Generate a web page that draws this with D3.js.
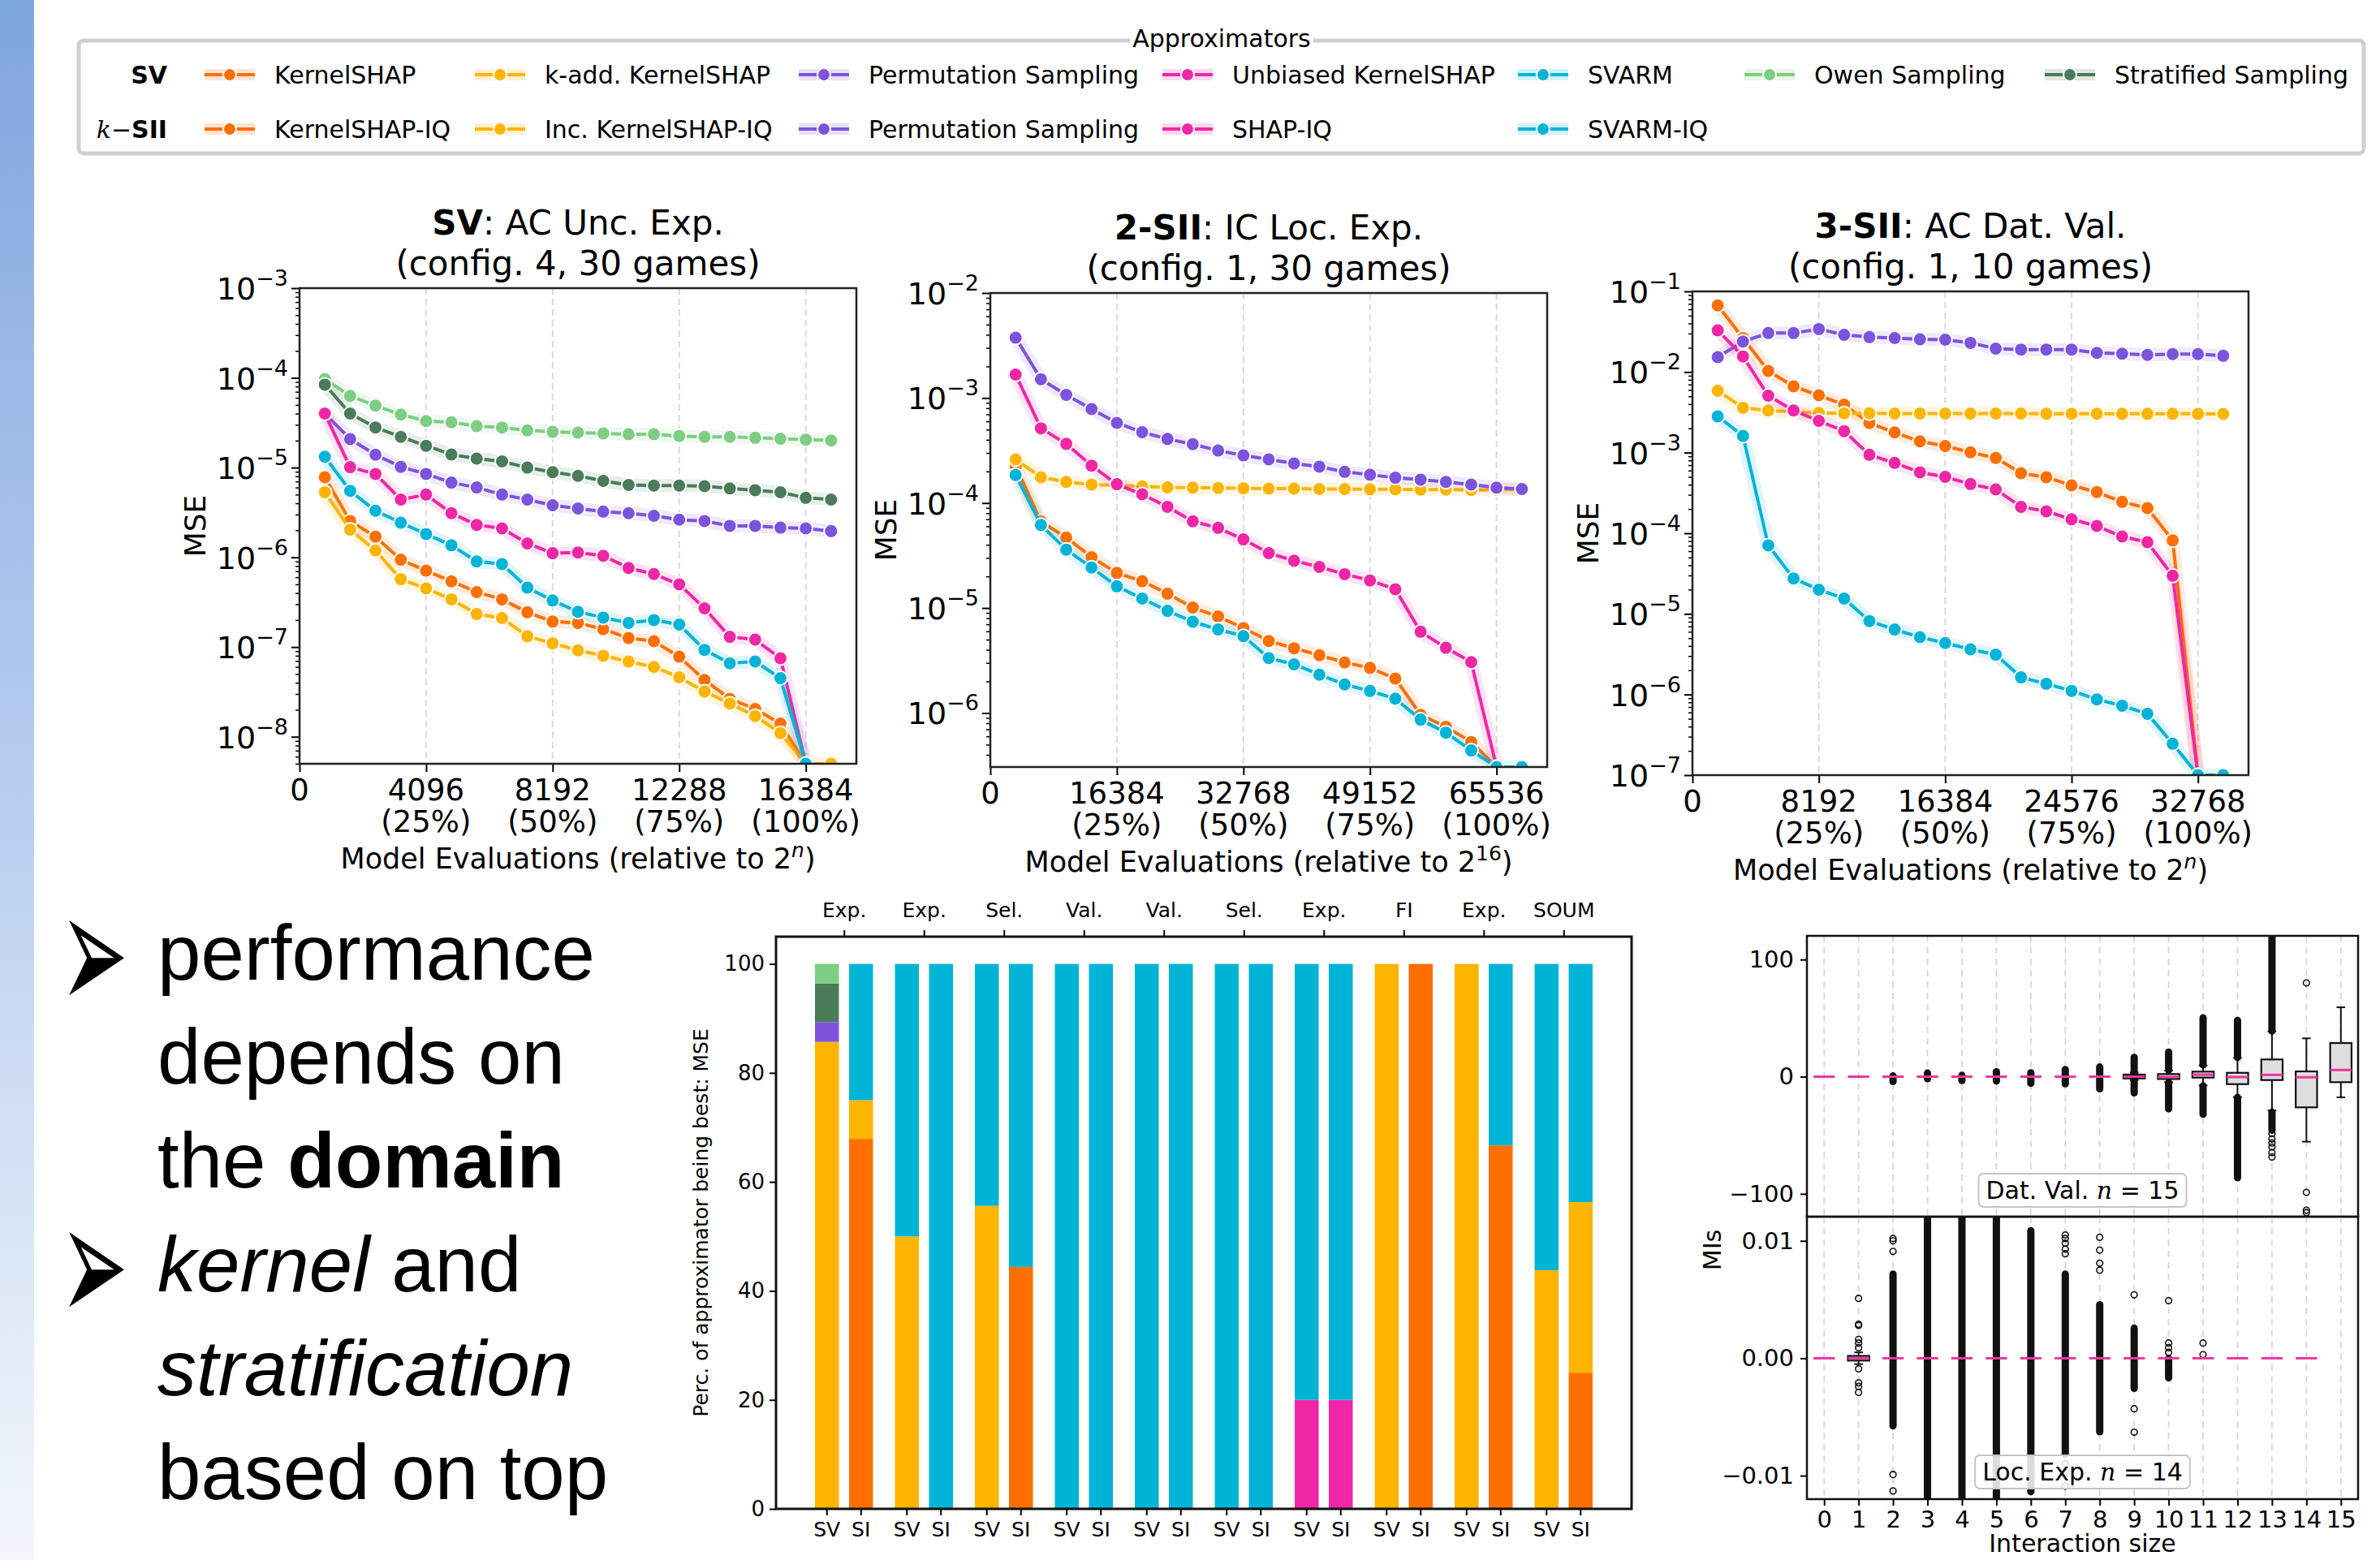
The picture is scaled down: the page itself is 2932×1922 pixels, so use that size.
<!DOCTYPE html>
<html>
<head>
<meta charset="utf-8">
<title>Approximators</title>
<script src="https://cdn.jsdelivr.net/npm/d3@7"></script>
<style>
  body { margin: 0; background: #fff; }
  svg { display: block; font-family: "DejaVu Sans", sans-serif; }
</style>
</head>
<body>
<div id="chart"></div>
<script>

// ---------- data ----------

const colors = {
  KernelSHAP: "#ff6f00", kAdd: "#ffb400", Permutation: "#7d53de", Unbiased: "#ef27a6",
  SVARM: "#00b4d8", Owen: "#7dce82", Stratified: "#4a7c59"
};
const seriesOrder = ["KernelSHAP", "kAdd", "Permutation", "Unbiased", "SVARM", "Owen", "Stratified"];

const legendSV  = ["KernelSHAP", "k-add. KernelSHAP", "Permutation Sampling", "Unbiased KernelSHAP", "SVARM", "Owen Sampling", "Stratified Sampling"];
const legendSII = ["KernelSHAP-IQ", "Inc. KernelSHAP-IQ", "Permutation Sampling", "SHAP-IQ", "SVARM-IQ"];

// panel 1: SV, AC Unc. Exp. (0 = exact, drawn at the bottom edge)
const p1Budget = [819, 1638, 2458, 3277, 4096, 4915, 5734, 6554, 7373, 8192, 9011, 9830, 10650, 11469, 12288, 13107, 13926, 14746, 15565, 16384, 17203];
const p1XTicks = [0, 4096, 8192, 12288, 16384];
const p1XPct   = ["", "(25%)", "(50%)", "(75%)", "(100%)"];
const p1KernelSHAP  = [7.8e-6, 2.54e-6, 1.7e-6, 9.4e-7, 7.1e-7, 5.4e-7, 4.1e-7, 3.4e-7, 2.44e-7, 1.92e-7, 1.86e-7, 1.58e-7, 1.26e-7, 1.16e-7, 7.8e-8, 4.3e-8, 2.65e-8, 2.04e-8, 1.4e-8, 0];
const p1kAdd        = [5.3e-6, 2.04e-6, 1.19e-6, 5.7e-7, 4.5e-7, 3.4e-7, 2.33e-7, 2.1e-7, 1.32e-7, 1.1e-7, 9.2e-8, 8.0e-8, 6.9e-8, 6.0e-8, 4.6e-8, 3.2e-8, 2.35e-8, 1.7e-8, 1.1e-8, 0, 0];
const p1Permutation = [4.0e-5, 2.08e-5, 1.39e-5, 1.02e-5, 8.5e-6, 6.8e-6, 6.0e-6, 5.0e-6, 4.4e-6, 3.8e-6, 3.5e-6, 3.23e-6, 3.1e-6, 2.9e-6, 2.63e-6, 2.54e-6, 2.24e-6, 2.24e-6, 2.14e-6, 2.1e-6, 1.96e-6];
const p1Unbiased    = [4.0e-5, 1.01e-5, 8.5e-6, 4.4e-6, 5.0e-6, 3.1e-6, 2.3e-6, 2.1e-6, 1.43e-6, 1.11e-6, 1.13e-6, 1.04e-6, 7.6e-7, 6.5e-7, 5.0e-7, 2.7e-7, 1.3e-7, 1.21e-7, 7.5e-8, 0];
const p1SVARM       = [1.32e-5, 5.5e-6, 3.3e-6, 2.43e-6, 1.82e-6, 1.36e-6, 9.0e-7, 8.4e-7, 4.6e-7, 3.3e-7, 2.47e-7, 2.13e-7, 1.86e-7, 2.0e-7, 1.78e-7, 9.3e-8, 6.6e-8, 6.9e-8, 4.5e-8, 0];
const p1Owen        = [9.7e-5, 6.3e-5, 4.9e-5, 3.9e-5, 3.3e-5, 3.2e-5, 2.9e-5, 2.8e-5, 2.6e-5, 2.5e-5, 2.45e-5, 2.4e-5, 2.35e-5, 2.35e-5, 2.25e-5, 2.2e-5, 2.2e-5, 2.15e-5, 2.1e-5, 2.05e-5, 2.0e-5];
const p1Stratified  = [8.4e-5, 4.0e-5, 2.8e-5, 2.2e-5, 1.75e-5, 1.4e-5, 1.26e-5, 1.17e-5, 1.0e-5, 8.9e-6, 8.1e-6, 7.1e-6, 6.4e-6, 6.3e-6, 6.3e-6, 6.2e-6, 5.85e-6, 5.6e-6, 5.3e-6, 4.6e-6, 4.4e-6];

// panel 2: 2-SII, IC Loc. Exp.
const p2Budget = [3277, 6554, 9830, 13107, 16384, 19661, 22938, 26214, 29491, 32768, 36045, 39322, 42598, 45875, 49152, 52429, 55706, 58982, 62259, 65536, 68813];
const p2XTicks = [0, 16384, 32768, 49152, 65536];
const p2XPct   = ["", "(25%)", "(50%)", "(75%)", "(100%)"];
const p2KernelSHAP  = [2.24e-4, 6.67e-5, 4.69e-5, 3.05e-5, 2.16e-5, 1.8e-5, 1.37e-5, 1.01e-5, 8.3e-6, 6.45e-6, 4.85e-6, 4.14e-6, 3.55e-6, 3.03e-6, 2.69e-6, 2.13e-6, 9.6e-7, 7.4e-7, 5.3e-7, 0];
const p2kAdd        = [2.6e-4, 1.76e-4, 1.59e-4, 1.5e-4, 1.47e-4, 1.44e-4, 1.41e-4, 1.4e-4, 1.39e-4, 1.38e-4, 1.37e-4, 1.37e-4, 1.36e-4, 1.36e-4, 1.35e-4, 1.35e-4, 1.34e-4, 1.34e-4, 1.33e-4, 1.34e-4, 1.34e-4];
const p2Permutation = [3.76e-3, 1.51e-3, 1.07e-3, 7.85e-4, 5.8e-4, 4.72e-4, 4.07e-4, 3.63e-4, 3.16e-4, 2.84e-4, 2.6e-4, 2.38e-4, 2.22e-4, 1.98e-4, 1.86e-4, 1.74e-4, 1.67e-4, 1.59e-4, 1.5e-4, 1.4e-4, 1.36e-4];
const p2Unbiased    = [1.67e-3, 5.15e-4, 3.66e-4, 2.27e-4, 1.51e-4, 1.21e-4, 9.2e-5, 6.7e-5, 5.8e-5, 4.5e-5, 3.33e-5, 2.82e-5, 2.46e-5, 2.1e-5, 1.83e-5, 1.51e-5, 5.94e-6, 4.18e-6, 3.05e-6, 0];
const p2SVARM       = [1.85e-4, 6.17e-5, 3.6e-5, 2.43e-5, 1.61e-5, 1.23e-5, 9.4e-6, 7.4e-6, 6.25e-6, 5.4e-6, 3.34e-6, 2.91e-6, 2.32e-6, 1.87e-6, 1.62e-6, 1.37e-6, 8.65e-7, 6.5e-7, 4.4e-7, 0, 0];

// panel 3: 3-SII, AC Dat. Val.
const p3Budget = [1638, 3277, 4915, 6554, 8192, 9830, 11469, 13107, 14746, 16384, 18022, 19661, 21299, 22938, 24576, 26214, 27853, 29491, 31130, 32768, 34406];
const p3XTicks = [0, 8192, 16384, 24576, 32768];
const p3XPct   = ["", "(25%)", "(50%)", "(75%)", "(100%)"];
const p3KernelSHAP  = [6.7e-2, 2.64e-2, 1.03e-2, 6.64e-3, 5.14e-3, 3.93e-3, 2.33e-3, 1.78e-3, 1.38e-3, 1.21e-3, 1.01e-3, 8.6e-4, 5.55e-4, 4.95e-4, 3.93e-4, 3.24e-4, 2.45e-4, 2.05e-4, 8.15e-5, 0];
const p3kAdd        = [5.85e-3, 3.6e-3, 3.33e-3, 3.2e-3, 3.1e-3, 3.08e-3, 3.07e-3, 3.06e-3, 3.06e-3, 3.05e-3, 3.05e-3, 3.05e-3, 3.05e-3, 3.04e-3, 3.04e-3, 3.04e-3, 3.03e-3, 3.03e-3, 3.03e-3, 3.03e-3, 3.02e-3];
const p3Permutation = [1.53e-2, 2.39e-2, 3.04e-2, 3.04e-2, 3.41e-2, 2.89e-2, 2.71e-2, 2.64e-2, 2.55e-2, 2.52e-2, 2.3e-2, 1.95e-2, 1.9e-2, 1.9e-2, 1.9e-2, 1.73e-2, 1.69e-2, 1.63e-2, 1.67e-2, 1.67e-2, 1.59e-2];
const p3Unbiased    = [3.29e-2, 1.56e-2, 5.08e-3, 3.33e-3, 2.48e-3, 1.85e-3, 9.4e-4, 7.45e-4, 5.7e-4, 5.0e-4, 4.08e-4, 3.5e-4, 2.13e-4, 1.87e-4, 1.49e-4, 1.23e-4, 9.1e-5, 7.75e-5, 2.97e-5, 0];
const p3SVARM       = [2.82e-3, 1.61e-3, 7.08e-5, 2.75e-5, 2.0e-5, 1.55e-5, 8.15e-6, 6.4e-6, 5.15e-6, 4.35e-6, 3.64e-6, 3.12e-6, 1.63e-6, 1.36e-6, 1.11e-6, 8.7e-7, 7.26e-7, 5.77e-7, 2.45e-7, 0, 0];

// bar chart: share of games (%) where each approximator is best, bars SV/SI per group
const barGroups = ["Exp.", "Exp.", "Sel.", "Val.", "Val.", "Sel.", "Exp.", "FI", "Exp.", "SOUM"];
const barKinds  = ["SV", "SI"];
const barKernelSHAP  = [0, 67.9, 0, 0, 0, 44.4, 0, 0, 0, 0, 0, 0, 0, 0, 0, 100, 0, 66.7, 0, 25];
const barkAdd        = [85.7, 7.1, 50, 0, 55.6, 0, 0, 0, 0, 0, 0, 0, 0, 0, 100, 0, 100, 0, 43.8, 31.3];
const barPermutation = [3.6, 0, 0, 0, 0, 0, 0, 0, 0, 0, 0, 0, 0, 0, 0, 0, 0, 0, 0, 0];
const barUnbiased    = [0, 0, 0, 0, 0, 0, 0, 0, 0, 0, 0, 0, 20, 20, 0, 0, 0, 0, 0, 0];
const barStratified  = [7.1, 0, 0, 0, 0, 0, 0, 0, 0, 0, 0, 0, 0, 0, 0, 0, 0, 0, 0, 0];
const barOwen        = [3.6, 0, 0, 0, 0, 0, 0, 0, 0, 0, 0, 0, 0, 0, 0, 0, 0, 0, 0, 0];
const barSVARM       = [0, 25, 50, 100, 44.4, 55.6, 100, 100, 100, 100, 100, 100, 80, 80, 0, 0, 0, 33.3, 56.2, 43.7];
const barTicks = [0, 20, 40, 60, 80, 100];

// box plots of MIs per interaction size: [q1, median, q3, whiskerLow, whiskerHigh]
const sizes = [0, 1, 2, 3, 4, 5, 6, 7, 8, 9, 10, 11, 12, 13, 14, 15];
const datValBoxes = [
  [0, 0, 0, 0, 0], [0, 0, 0, 0, 0], [0, 0, 0, 0, 0], [0, 0, 0, 0, 0], [0, 0, 0, 0, 0], [0, 0, 0, 0, 0],
  [0, 0, 0, 0, 0], [0, 0, 0, 0, 0], [0, 0, 0, 0, 0], [-1.5, 0, 1.8, -3, 3.5], [-2, -0.3, 2.2, -4.7, 5.2],
  [-0.8, 1.7, 4.3, -7.5, 9.6], [-6.4, -0.3, 3.3, -17.4, 16], [-2.9, 1.5, 14.7, -28.9, 38.6],
  [-26.2, -0.5, 4.5, -55.5, 32.7], [-4.7, 5.7, 28.7, -17.6, 59.2]
];
const datValRuns = [
  [], [], [[-4.5, 1.0]], [[-2.2, 3.4]], [[-3.7, 1.5]], [[-4, 4.5]], [[-6, 3.7]], [[-6.4, 6.4]], [[-10.8, 8.6]],
  [[-14.2, 16.8]], [[-27.8, -4.7], [5.2, 21.3]], [[-32.4, -7.5], [9.6, 50.6]], [[-86.6, -17.4], [16, 48.3]],
  [[-46, -30], [38.6, 125]], [], []
];
const datValOutliers = [
  [], [], [], [], [], [], [], [], [], [], [], [], [],
  [-48.6, -53.2, -56.6, -60.1, -64.7, -68.6], [80, -98.8, -114, -116], []
];
const locExpBoxes = [
  [0, 0, 0, 0, 0], [-0.0002, 0, 0.0002, -0.0005, 0.0005], [0, 0, 0, 0, 0], [0, 0, 0, 0, 0], [0, 0, 0, 0, 0],
  [0, 0, 0, 0, 0], [0, 0, 0, 0, 0], [0, 0, 0, 0, 0], [0, 0, 0, 0, 0], [0, 0, 0, 0, 0], [0, 0, 0, 0, 0],
  [0, 0, 0, 0, 0], [0, 0, 0, 0, 0], [0, 0, 0, 0, 0], [0, 0, 0, 0, 0]
];
const locExpRuns = [
  [], [], [[-0.0058, 0.0072]], [[-0.0125, 0.0125]], [[-0.0125, 0.0125]], [[-0.0125, 0.0125]],
  [[-0.0114, 0.0109]], [[-0.0082, 0.0072]], [[-0.0063, 0.0046]], [[-0.0026, 0.0026]], [[-0.0017, 0]], [], [], [], []
];
const locExpOutliers = [
  [], [0.0051, 0.0029, 0.0028, 0.0016, 0.0013, 0.0009, -0.0009, -0.0021, -0.0024, -0.0029],
  [0.0102, 0.0100, 0.0091, -0.0099, -0.0113], [], [], [], [],
  [0.0105, 0.0102, 0.0098, 0.0093, 0.0089, -0.0090, -0.0097, -0.0109],
  [0.0103, 0.0092, 0.0081, 0.0075], [0.0054, -0.0043, -0.0063], [0.0049, 0.0013, 0.0009, 0.0005],
  [0.0013, 0.0003], [], [], []
];

// ---------- drawing ----------

const W = 2932, H = 1922;
const svg = d3.select("#chart").append("svg")
  .attr("width", W).attr("height", H)
  .attr("viewBox", [0, 0, W, H]);
svg.append("rect").attr("width", W).attr("height", H).attr("fill", "#fff");
const defs = svg.append("defs");

// slide side band
const grad = defs.append("linearGradient").attr("id", "band")
  .attr("x1", 0).attr("x2", 0).attr("y1", 0).attr("y2", 1);
grad.append("stop").attr("offset", "0%").attr("stop-color", "#7ea6df");
grad.append("stop").attr("offset", "55%").attr("stop-color", "#bdd1f0");
grad.append("stop").attr("offset", "100%").attr("stop-color", "#f3f7fc");
svg.append("rect").attr("x", 0).attr("y", 0).attr("width", 42).attr("height", H).attr("fill", "url(#band)");

// legend
const lg = svg.append("g");
lg.append("rect").attr("x", 97).attr("y", 50).attr("width", 2815).attr("height", 139)
  .attr("rx", 6).attr("fill", "#fff").attr("stroke", "#cfcfcf").attr("stroke-width", 5);
const ltBack = lg.append("rect").attr("fill", "#fff");
const lt = lg.append("text").attr("x", 1505).attr("y", 58).attr("text-anchor", "middle")
  .attr("font-size", 30).text("Approximators");
const ltb = lt.node().getBBox();
ltBack.attr("x", ltb.x - 3).attr("y", ltb.y).attr("width", ltb.width + 6).attr("height", ltb.height);

const legendCols = [252, 585, 984, 1432, 1870, 2149, 2519];
function legendHandle(g, x0, yc, color) {
  g.append("rect").attr("x", x0).attr("y", yc - 7).attr("width", 62).attr("height", 14)
    .attr("fill", color).attr("opacity", 0.18);
  g.append("line").attr("x1", x0).attr("x2", x0 + 62).attr("y1", yc).attr("y2", yc)
    .attr("stroke", color).attr("stroke-width", 4);
  g.append("circle").attr("cx", x0 + 31).attr("cy", yc).attr("r", 8)
    .attr("fill", color).attr("stroke", "#fff").attr("stroke-width", 2);
}
[legendSV, legendSII].forEach((names, r) => {
  const yc = r === 0 ? 92 : 159;
  names.forEach((name, i) => {
    legendHandle(lg, legendCols[i], yc, colors[seriesOrder[i]]);
    lg.append("text").attr("x", legendCols[i] + 86).attr("y", yc + 11)
      .attr("font-size", 30).text(name);
  });
});
lg.append("text").attr("x", 206).attr("y", 103).attr("text-anchor", "end")
  .attr("font-size", 30).attr("font-weight", "bold").text("SV");
const sii = lg.append("text").attr("x", 206).attr("y", 170).attr("text-anchor", "end").attr("font-size", 30);
sii.append("tspan").attr("font-family", "DejaVu Serif").attr("font-style", "italic").text("k");
sii.append("tspan").text("\u2212");
sii.append("tspan").attr("font-weight", "bold").text("SII");

// line panels
const panels = [
  { id: "p1", left: 369, right: 1055, top: 355, bottom: 941, xMax: 18022, yDomain: [5e-9, 1e-3],
    decades: [-8, -7, -6, -5, -4, -3], budget: p1Budget, xTicks: p1XTicks, xPct: p1XPct,
    series: { KernelSHAP: p1KernelSHAP, kAdd: p1kAdd, Permutation: p1Permutation, Unbiased: p1Unbiased,
              SVARM: p1SVARM, Owen: p1Owen, Stratified: p1Stratified },
    bold: "SV", title: ": AC Unc. Exp.", sub: "(config. 4, 30 games)", sup: "n", supItalic: true },
  { id: "p2", left: 1220, right: 1906, top: 361, bottom: 945, xMax: 72090, yDomain: [3.06e-7, 1e-2],
    decades: [-6, -5, -4, -3, -2], budget: p2Budget, xTicks: p2XTicks, xPct: p2XPct,
    series: { KernelSHAP: p2KernelSHAP, kAdd: p2kAdd, Permutation: p2Permutation, Unbiased: p2Unbiased, SVARM: p2SVARM },
    bold: "2-SII", title: ": IC Loc. Exp.", sub: "(config. 1, 30 games)", sup: "16", supItalic: false },
  { id: "p3", left: 2085, right: 2770, top: 359, bottom: 955, xMax: 36045, yDomain: [1e-7, 1e-1],
    decades: [-7, -6, -5, -4, -3, -2, -1], budget: p3Budget, xTicks: p3XTicks, xPct: p3XPct,
    series: { KernelSHAP: p3KernelSHAP, kAdd: p3kAdd, Permutation: p3Permutation, Unbiased: p3Unbiased, SVARM: p3SVARM },
    bold: "3-SII", title: ": AC Dat. Val.", sub: "(config. 1, 10 games)", sup: "n", supItalic: true }
];

function drawLinePanel(p) {
  const x = d3.scaleLinear().domain([0, p.xMax]).range([p.left, p.right]);
  const y = d3.scaleLog().domain(p.yDomain).range([p.bottom, p.top]).clamp(true);
  const g = svg.append("g");

  g.selectAll(".grid").data(p.xTicks.filter(d => d > 0)).join("line")
    .attr("x1", d => x(d)).attr("x2", d => x(d)).attr("y1", p.top).attr("y2", p.bottom)
    .attr("stroke", "#dadada").attr("stroke-width", 2).attr("stroke-dasharray", "8,5");

  defs.append("clipPath").attr("id", "clip-" + p.id).append("rect")
    .attr("x", p.left).attr("y", p.top).attr("width", p.right - p.left).attr("height", p.bottom - p.top);
  const c = g.append("g").attr("clip-path", `url(#clip-${p.id})`);

  const yv = v => y(v > 0 ? v : p.yDomain[0]);
  const line = d3.line().x((v, i) => x(p.budget[i])).y(v => yv(v));
  seriesOrder.forEach(key => {
    const vals = p.series[key];
    if (!vals) return;
    const col = colors[key];
    c.append("path").attr("d", line(vals)).attr("fill", "none").attr("stroke", col)
      .attr("stroke-width", 16).attr("stroke-opacity", 0.13).attr("stroke-linejoin", "round");
    c.append("path").attr("d", line(vals)).attr("fill", "none").attr("stroke", col)
      .attr("stroke-width", 4).attr("stroke-linejoin", "round");
    c.selectAll(null).data(vals).join("circle")
      .attr("cx", (v, i) => x(p.budget[i])).attr("cy", v => yv(v)).attr("r", 8.5)
      .attr("fill", col).attr("stroke", "#fff").attr("stroke-width", 2);
  });

  // axes
  const major = p.decades.map(e => Math.pow(10, e));
  const minor = y.ticks().filter(t => !major.some(m => Math.abs(t / m - 1) < 1e-6));
  g.append("g").attr("transform", `translate(${p.left},0)`)
    .call(d3.axisLeft(y).tickValues(minor).tickSize(5).tickFormat(""))
    .call(a => a.select(".domain").remove())
    .call(a => a.selectAll("line").attr("stroke-width", 1.5));
  g.append("g").attr("transform", `translate(${p.left},0)`)
    .call(d3.axisLeft(y).tickValues(major).tickSize(10).tickFormat(""))
    .call(a => a.select(".domain").remove())
    .call(a => a.selectAll("line").attr("stroke-width", 2));
  p.decades.forEach(e => {
    const t = g.append("text").attr("x", p.left - 14).attr("y", y(Math.pow(10, e)) + 14)
      .attr("text-anchor", "end").attr("font-size", 38);
    t.append("tspan").text("10");
    t.append("tspan").attr("dy", -17).attr("font-size", 27).text("\u2212" + Math.abs(e));
  });

  g.append("g").attr("transform", `translate(0,${p.bottom})`)
    .call(d3.axisBottom(x).tickValues(p.xTicks).tickSize(10).tickFormat(""))
    .call(a => a.select(".domain").remove())
    .call(a => a.selectAll("line").attr("stroke-width", 2));
  p.xTicks.forEach((t, i) => {
    g.append("text").attr("x", x(t)).attr("y", p.bottom + 45).attr("text-anchor", "middle")
      .attr("font-size", 37).text(t);
    if (p.xPct[i]) g.append("text").attr("x", x(t)).attr("y", p.bottom + 84)
      .attr("text-anchor", "middle").attr("font-size", 37).text(p.xPct[i]);
  });

  g.append("rect").attr("x", p.left).attr("y", p.top).attr("width", p.right - p.left)
    .attr("height", p.bottom - p.top).attr("fill", "none").attr("stroke", "#222").attr("stroke-width", 2.5);

  const cx = (p.left + p.right) / 2;
  const t1 = g.append("text").attr("x", cx).attr("y", p.top - 66).attr("text-anchor", "middle").attr("font-size", 42);
  t1.append("tspan").attr("font-weight", "bold").text(p.bold);
  t1.append("tspan").text(p.title);
  g.append("text").attr("x", cx).attr("y", p.top - 16).attr("text-anchor", "middle").attr("font-size", 42).text(p.sub);

  const xl = g.append("text").attr("x", cx).attr("y", p.bottom + 129).attr("text-anchor", "middle").attr("font-size", 35);
  xl.append("tspan").text("Model Evaluations (relative to 2");
  xl.append("tspan").attr("dy", -14).attr("font-size", 25)
    .attr("font-style", p.supItalic ? "italic" : "normal").text(p.sup);
  xl.append("tspan").attr("dy", 14).text(")");

  g.append("text").attr("transform", `translate(${p.left - 116},${(p.top + p.bottom) / 2}) rotate(-90)`)
    .attr("text-anchor", "middle").attr("font-size", 36).text("MSE");
}
panels.forEach(drawLinePanel);

// bar chart
(function () {
  const left = 956, right = 2010, top = 1154, bottom = 1859;
  const shares = { KernelSHAP: barKernelSHAP, kAdd: barkAdd, Permutation: barPermutation, Unbiased: barUnbiased,
                   Stratified: barStratified, Owen: barOwen, SVARM: barSVARM };
  const stackKeys = ["KernelSHAP", "kAdd", "Permutation", "Unbiased", "Stratified", "Owen", "SVARM"];
  const rows = barKernelSHAP.map((_, i) => {
    const r = { group: Math.floor(i / 2), kind: i % 2 };
    stackKeys.forEach(k => r[k] = shares[k][i]);
    return r;
  });
  const stacked = d3.stack().keys(stackKeys)(rows);
  const gx = d3.scalePoint().domain(d3.range(barGroups.length)).range([left, right]).padding(0.85);
  const kx = d3.scalePoint().domain([0, 1]).range([-21, 21]);
  const y = d3.scaleLinear().domain([0, 105]).range([bottom, top]);
  const bw = 29.5;
  const g = svg.append("g");

  stacked.forEach(layer => {
    g.selectAll(null).data(layer.filter(d => d[1] - d[0] > 0)).join("rect")
      .attr("x", d => gx(d.data.group) + kx(d.data.kind) - bw / 2)
      .attr("width", bw)
      .attr("y", d => y(d[1])).attr("height", d => y(d[0]) - y(d[1]))
      .attr("fill", colors[layer.key]);
  });

  g.append("g").attr("transform", `translate(${left},0)`)
    .call(d3.axisLeft(y).tickValues(barTicks).tickSize(8).tickPadding(6))
    .call(a => a.select(".domain").remove())
    .call(a => a.selectAll("line").attr("stroke-width", 2))
    .call(a => a.selectAll("text").attr("font-size", 26).attr("font-family", "DejaVu Sans"));

  g.append("g").attr("transform", `translate(0,${top})`)
    .call(d3.axisTop(gx).tickSize(8).tickPadding(16).tickFormat(i => barGroups[i]))
    .call(a => a.select(".domain").remove())
    .call(a => a.selectAll("line").attr("stroke-width", 2))
    .call(a => a.selectAll("text").attr("font-size", 25).attr("font-family", "DejaVu Sans"));

  const bars = rows.map(r => ({ x: gx(r.group) + kx(r.kind), label: barKinds[r.kind] }));
  g.selectAll(".bt").data(bars).join("line")
    .attr("x1", d => d.x).attr("x2", d => d.x).attr("y1", bottom).attr("y2", bottom + 8)
    .attr("stroke", "#000").attr("stroke-width", 2);
  g.selectAll(".bl").data(bars).join("text")
    .attr("x", d => d.x).attr("y", bottom + 34).attr("text-anchor", "middle")
    .attr("font-size", 25).text(d => d.label);

  g.append("rect").attr("x", left).attr("y", top).attr("width", right - left).attr("height", bottom - top)
    .attr("fill", "none").attr("stroke", "#111").attr("stroke-width", 3);

  g.append("text").attr("transform", `translate(${left - 84},${(top + bottom) / 2}) rotate(-90)`)
    .attr("text-anchor", "middle").attr("font-size", 25).text("Perc. of approximator being best: MSE");
})();

// box plots
const bx = d3.scaleLinear().domain([-0.5, 15.5]).range([2226, 2905]);
function drawBoxPanel(o) {
  const y = d3.scaleLinear().domain(o.yDomain).range([o.bottom, o.top]);
  const g = svg.append("g");
  g.selectAll(null).data(sizes).join("line")
    .attr("x1", d => bx(d)).attr("x2", d => bx(d)).attr("y1", o.top).attr("y2", o.bottom)
    .attr("stroke", "#d6d6d6").attr("stroke-width", 1.8).attr("stroke-dasharray", "8,6");

  defs.append("clipPath").attr("id", "clip-" + o.id).append("rect")
    .attr("x", bx.range()[0]).attr("y", o.top).attr("width", bx.range()[1] - bx.range()[0]).attr("height", o.bottom - o.top);
  const c = g.append("g").attr("clip-path", `url(#clip-${o.id})`);
  const half = (bx(0.31) - bx(0));
  const cap = (bx(0.125) - bx(0));

  o.runs.forEach((rs, i) => rs.forEach(([lo, hi]) => {
    c.append("rect").attr("x", bx(i) - 4.5).attr("width", 9)
      .attr("y", y(hi) - 4).attr("height", y(lo) - y(hi) + 8).attr("rx", 4.5).attr("fill", "#111");
  }));
  o.outliers.forEach((pts, i) => {
    c.selectAll(null).data(pts).join("circle")
      .attr("cx", bx(i)).attr("cy", d => y(d)).attr("r", 3.8)
      .attr("fill", "none").attr("stroke", "#111").attr("stroke-width", 1.6);
  });
  o.boxes.forEach(([q1, med, q3, wl, wh], i) => {
    const xc = bx(i);
    if (wh > q3) {
      c.append("line").attr("x1", xc).attr("x2", xc).attr("y1", y(q3)).attr("y2", y(wh)).attr("stroke", "#111").attr("stroke-width", 2);
      c.append("line").attr("x1", xc - cap).attr("x2", xc + cap).attr("y1", y(wh)).attr("y2", y(wh)).attr("stroke", "#111").attr("stroke-width", 2);
    }
    if (wl < q1) {
      c.append("line").attr("x1", xc).attr("x2", xc).attr("y1", y(q1)).attr("y2", y(wl)).attr("stroke", "#111").attr("stroke-width", 2);
      c.append("line").attr("x1", xc - cap).attr("x2", xc + cap).attr("y1", y(wl)).attr("y2", y(wl)).attr("stroke", "#111").attr("stroke-width", 2);
    }
    if (q3 > q1) {
      c.append("rect").attr("x", xc - half).attr("width", 2 * half).attr("y", y(q3)).attr("height", y(q1) - y(q3))
        .attr("fill", "#dedede").attr("stroke", "#111").attr("stroke-width", 2.2);
    }
    c.append("line").attr("x1", xc - half).attr("x2", xc + half).attr("y1", y(med)).attr("y2", y(med))
      .attr("stroke", "#e8379f").attr("stroke-width", 3);
  });

  g.append("g").attr("transform", `translate(${bx.range()[0]},0)`)
    .call(d3.axisLeft(y).tickValues(o.ticks).tickSize(8).tickPadding(8).tickFormat((d, i) => o.tickLabels[i]))
    .call(a => a.select(".domain").remove())
    .call(a => a.selectAll("line").attr("stroke-width", 2))
    .call(a => a.selectAll("text").attr("font-size", 29).attr("font-family", "DejaVu Sans"));

  g.append("rect").attr("x", bx.range()[0]).attr("y", o.top).attr("width", bx.range()[1] - bx.range()[0])
    .attr("height", o.bottom - o.top).attr("fill", "none").attr("stroke", "#111").attr("stroke-width", 2.5);

  const lbox = g.append("g");
  const back = lbox.append("rect");
  const lab = lbox.append("text").attr("x", bx(7.5)).attr("y", o.labelY).attr("text-anchor", "middle").attr("font-size", 30);
  lab.append("tspan").text(o.label);
  lab.append("tspan").attr("font-style", "italic").attr("font-family", "DejaVu Serif").text("n");
  lab.append("tspan").text(" = " + o.n);
  const bb = lab.node().getBBox();
  back.attr("x", bb.x - 9).attr("y", bb.y - 3).attr("width", bb.width + 18)
    .attr("height", bb.height + 6).attr("rx", 6).attr("fill", "#fff").attr("fill-opacity", 0.85)
    .attr("stroke", "#c4c4c4").attr("stroke-width", 2);
}
drawBoxPanel({ id: "bt", top: 1153, bottom: 1499, yDomain: [-119.5, 120.2], boxes: datValBoxes, runs: datValRuns,
  outliers: datValOutliers, ticks: [-100, 0, 100], tickLabels: ["\u2212100", "0", "100"],
  label: "Dat. Val. ", n: 15, labelY: 1477 });
drawBoxPanel({ id: "bb", top: 1499, bottom: 1847, yDomain: [-0.0120, 0.01206], boxes: locExpBoxes, runs: locExpRuns,
  outliers: locExpOutliers, ticks: [-0.01, 0, 0.01], tickLabels: ["\u22120.01", "0.00", "0.01"],
  label: "Loc. Exp. ", n: 14, labelY: 1824 });

svg.append("g").attr("transform", "translate(0,1847)")
  .call(d3.axisBottom(bx).tickValues(sizes).tickSize(8).tickPadding(6))
  .call(a => a.select(".domain").remove())
  .call(a => a.selectAll("line").attr("stroke-width", 2))
  .call(a => a.selectAll("text").attr("font-size", 29).attr("font-family", "DejaVu Sans"));
svg.append("text").attr("x", bx(7.5)).attr("y", 1912).attr("text-anchor", "middle").attr("font-size", 30).text("Interaction size");
svg.append("text").attr("transform", "translate(2120,1540) rotate(-90)").attr("text-anchor", "middle")
  .attr("font-size", 30).text("MIs");

// slide text
const bullets = [
  [{ t: "performance" }],
  [{ t: "depends on" }],
  [{ t: "the " }, { t: "domain", b: true }],
  [{ t: "kernel", i: true }, { t: " and" }],
  [{ t: "stratification", i: true }],
  [{ t: "based on top" }]
];
const st = svg.append("g").attr("font-family", "Liberation Sans, sans-serif").attr("font-size", 96);
bullets.forEach((parts, k) => {
  const yb = 1207 + k * 128;
  const t = st.append("text").attr("x", 194).attr("y", yb);
  parts.forEach(p => t.append("tspan").attr("font-weight", p.b ? "bold" : "normal")
    .attr("font-style", p.i ? "italic" : "normal").text(p.t));
  if (k === 0 || k === 3) {
    st.append("text").attr("transform", `translate(74,${yb - 34}) scale(1,2.1)`)
      .attr("font-family", "DejaVu Sans").attr("font-size", 100)
      .attr("dominant-baseline", "central").text("\u27a2");
  }
});

</script>
</body>
</html>
